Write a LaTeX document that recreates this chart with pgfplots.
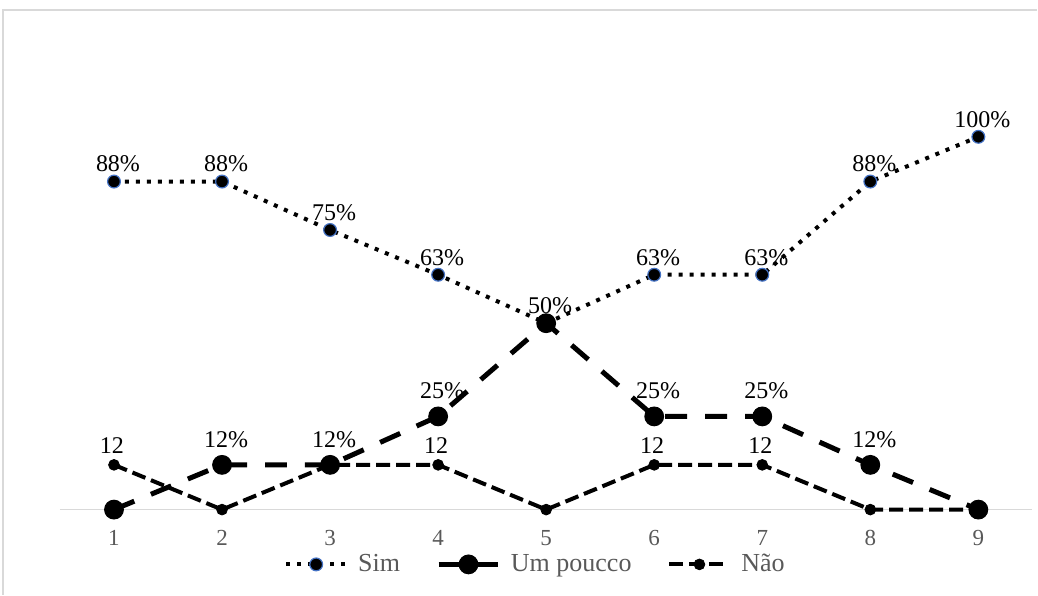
\documentclass[border=0pt]{standalone}
\usepackage{fontspec}
\setmainfont{Liberation Serif}
\usepackage{pgfplots}
\pgfplotsset{compat=1.18}
\definecolor{tickgray}{RGB}{89,89,89}
\definecolor{axgray}{RGB}{217,217,217}
\definecolor{simblue}{RGB}{68,114,196}
\begin{document}
\begin{tikzpicture}
\begin{axis}[
 scale only axis, width=486.5pt, height=186.5pt,
 xmin=0.5, xmax=9.5, ymin=0, ymax=100,
 axis x line=bottom, axis y line=none,
 x axis line style={-, draw=axgray, line width=0.75pt},
 xtick={1,...,9}, major tick length=0pt,
 /pgf/number format/assume math mode=true,
 xticklabel style={text=tickgray, font=\fontsize{11.5}{13}\selectfont, yshift=-7pt},
 clip=false,
 legend columns=3,
 legend style={draw=none, fill=none, at={(0.49,-0.147)}, anchor=center,
   font=\fontsize{13}{15}\selectfont, text=tickgray,
   /tikz/every even column/.style={column sep=16pt},
   /tikz/every odd column/.style={column sep=3pt}},
 legend image code/.code={\draw[mark repeat=2,mark phase=2] plot coordinates {(0pt,0pt)(15pt,0pt)(30pt,0pt)};},
 nodes near coords, point meta=explicit symbolic,
 every node near coord/.append style={font=\fontsize{12}{14}\selectfont, text=black},
]
\path (axis cs:-0.055,136.7) rectangle (axis cs:9.545,-22.8);
\draw[axgray, line width=0.75pt] (axis cs:-0.027,-22.8) -- (axis cs:-0.027,134) -- (axis cs:9.545,134);

\addplot[black, line width=2pt, dash pattern=on 2pt off 3.5pt, mark=*, mark size=3.2pt,
  mark options={solid, fill=black, draw=simblue, line width=0.6pt},
  nodes near coords style={yshift=1pt, xshift=2pt}]
 coordinates {(1,88)[88\%] (2,88)[88\%] (3,75)[75\%] (4,63)[63\%] (5,50)[50\%] (6,63)[63\%] (7,63)[63\%] (8,88)[88\%] (9,100)[100\%]};
\addlegendentry{Sim}

\addplot[black, line width=2.5pt, dash pattern=on 11pt off 9pt, mark=*, mark size=4.7pt,
  mark options={solid, fill=black, line width=0.5pt},
  nodes near coords style={yshift=5pt, xshift=2pt}]
 coordinates {(1,0)[] (2,12)[12\%] (3,12)[12\%] (4,25)[25\%] (5,50)[] (6,25)[25\%] (7,25)[25\%] (8,12)[12\%] (9,0)[]};
\addlegendentry{Um poucco}

\addplot[black, line width=2pt, dash pattern=on 7pt off 3pt, mark=*, mark size=2.7pt,
  mark options={solid, fill=black, line width=0.4pt},
  nodes near coords style={yshift=2pt, xshift=-1pt}]
 coordinates {(1,12)[12] (2,0)[] (3,12)[] (4,12)[12] (5,0)[] (6,12)[12] (7,12)[12] (8,0)[] (9,0)[]};
\addlegendentry{Não}
\end{axis}
\end{tikzpicture}
\end{document}
